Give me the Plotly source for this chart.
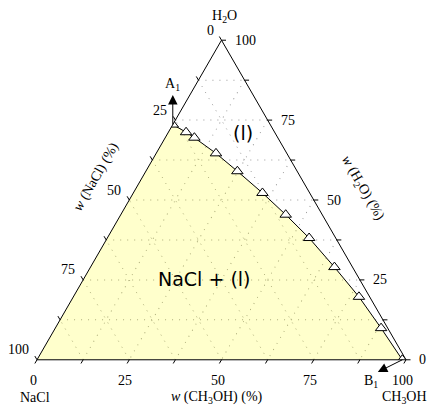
import numpy as np
import plotly.graph_objects as go

# NaCl–CH3OH–H2O solubility isotherm, mass fractions (%)
h2o = [73.6, 71.2, 69.5, 64.6, 59.0, 52.2, 45.4, 38.1, 29.0, 19.7, 9.9, 0.0]
nacl = [26.4, 24.0, 22.6, 19.2, 16.2, 12.8, 9.9, 7.2, 4.9, 2.9, 1.8, 1.0]
ch3oh = [0.0, 4.8, 7.9, 16.2, 24.8, 35.0, 44.7, 54.7, 66.1, 77.4, 88.3, 99.0]

# pure-salt corner (H2O, NaCl, CH3OH) closing the NaCl + (l) field
nacl_corner = (0.0, 100.0, 0.0)

tick_vals = [0, 12.5, 25, 37.5, 50, 62.5, 75, 87.5, 100]
label_vals = [0, 25, 50, 75, 100]

W, H = 432, 407
MARGIN = dict(l=37, r=26, t=40, b=47)

serif = "Liberation Serif"
sans = "DejaVu Sans"
TICK_LEN = 6


def to_paper(a, b, c):
    """Map a ternary point (a top, b left, c right) to paper coordinates."""
    pw = W - MARGIN["l"] - MARGIN["r"]
    ph = H - MARGIN["t"] - MARGIN["b"]
    side = min(pw, ph * 2 / np.sqrt(3))
    tri_h = side * np.sqrt(3) / 2
    x_off = (pw - side) / 2
    y_off = (ph - tri_h) / 2
    s = a + b + c
    fa, fc = a / s, c / s
    return (x_off + side * (fc + fa / 2)) / pw, (y_off + tri_h * fa) / ph


# grid and frame come from the ternary axes; ticks and labels are drawn
# per edge so each edge carries its own component
axis_style = dict(
    tickmode="array",
    tickvals=tick_vals,
    ticks="",
    showticklabels=False,
    showline=True,
    linecolor="black",
    linewidth=1,
    showgrid=True,
    gridcolor="#9a9a9a",
    gridwidth=1,
    griddash="1px,6px",
    title=dict(text=""),
    min=0,
    layer="above traces",
)

fig = go.Figure()

# NaCl + (l) two-phase field
fig.add_trace(go.Scatterternary(
    a=[nacl_corner[0]] + h2o + [nacl_corner[0]],
    b=[nacl_corner[1]] + nacl + [nacl_corner[1]],
    c=[nacl_corner[2]] + ch3oh + [nacl_corner[2]],
    mode="lines",
    fill="toself",
    fillcolor="rgba(255,255,0,0.2)",
    line=dict(width=0, color="rgba(0,0,0,0)"),
    hoverinfo="skip",
))

# solubility curve A1 – B1
fig.add_trace(go.Scatterternary(
    a=h2o, b=nacl, c=ch3oh,
    mode="lines+markers",
    line=dict(color="black", width=1),
    marker=dict(symbol="triangle-up", size=10, color="white",
                line=dict(color="black", width=1)),
    hoverinfo="skip",
))


def label(text, x, y, size=14, family=serif, angle=0, xanchor="center", **kw):
    return dict(text=text, x=x, y=y, xref="paper", yref="paper",
                xanchor=xanchor, yanchor="middle", showarrow=False,
                textangle=angle, font=dict(family=family, size=size, color="black"), **kw)


def tick(x, y, dx, dy):
    return dict(text="", x=x, y=y, xref="paper", yref="paper",
                showarrow=True, arrowhead=0, ax=dx, ay=dy, standoff=0,
                arrowwidth=1, arrowcolor="black")


annotations = []

# edge definitions: point on the edge for value v, tick direction, label placement
sin60 = np.sqrt(3) / 2
edges = [
    # w(NaCl) along the left edge, 0 at the top
    dict(point=lambda v: (100 - v, v, 0), d=(-0.5, -sin60),
         lab=dict(xanchor="right", xshift=-6, yshift=10)),
    # w(CH3OH) along the bottom edge, 0 at the NaCl corner
    dict(point=lambda v: (0, 100 - v, v), d=(-0.5, sin60),
         lab=dict(xanchor="center", xshift=-4, yshift=-21)),
    # w(H2O) along the right edge, 0 at the CH3OH corner
    dict(point=lambda v: (v, 0, 100 - v), d=(1.0, 0.0),
         lab=dict(xanchor="left", xshift=11, yshift=0)),
]

for e in edges:
    for v in tick_vals:
        px, py = to_paper(*e["point"](v))
        annotations.append(tick(px, py, TICK_LEN * e["d"][0], TICK_LEN * e["d"][1]))
        if v in label_vals:
            annotations.append(label(f"{v:g}", px, py, **e["lab"]))

annotations += [
    # component names at the corners
    label("H<sub>2</sub>O", 0.5075, 1.073),
    label("NaCl", -0.005, -0.118),
    label("CH<sub>3</sub>OH", 0.995, -0.118),
    # edge titles
    label("<i>w</i> (CH<sub>3</sub>OH) (%)", 0.489, -0.118),
    label("<i>w</i> (NaCl) (%)", 0.16, 0.572, angle=-60),
    label("<i>w</i> (H<sub>2</sub>O) (%)", 0.8835, 0.5375, angle=60),
    # phase fields
    label("(l)", 0.558, 0.709, size=19, family=sans),
    label("NaCl + (l)", 0.455, 0.253, size=19, family=sans),
]

# invariant points A1 and B1 with their arrows
ax_a1, ay_a1 = to_paper(h2o[0], nacl[0], ch3oh[0])
ax_b1, ay_b1 = to_paper(h2o[-1], nacl[-1], ch3oh[-1])
annotations += [
    label("A<sub>1</sub>", ax_a1, ay_a1, yshift=40),
    label("B<sub>1</sub>", ax_b1, ay_b1, xshift=-31, yshift=-22),
]
for (px, py, dx, dy) in [(ax_a1, ay_a1, 0, -31), (ax_b1, ay_b1, -26, 13)]:
    annotations.append(dict(
        text="", x=px, y=py, xref="paper", yref="paper",
        showarrow=True, ax=dx, ay=dy, arrowside="start",
        startarrowhead=2, startarrowsize=1.9, arrowwidth=1, arrowcolor="black",
    ))

fig.update_layout(
    width=W, height=H,
    margin=MARGIN,
    paper_bgcolor="white",
    showlegend=False,
    ternary=dict(
        sum=100,
        bgcolor="white",
        domain=dict(x=[0, 1], y=[0, 1]),
        aaxis=axis_style,
        baxis=axis_style,
        caxis=axis_style,
    ),
    annotations=annotations,
)

fig.write_html("out.html")
